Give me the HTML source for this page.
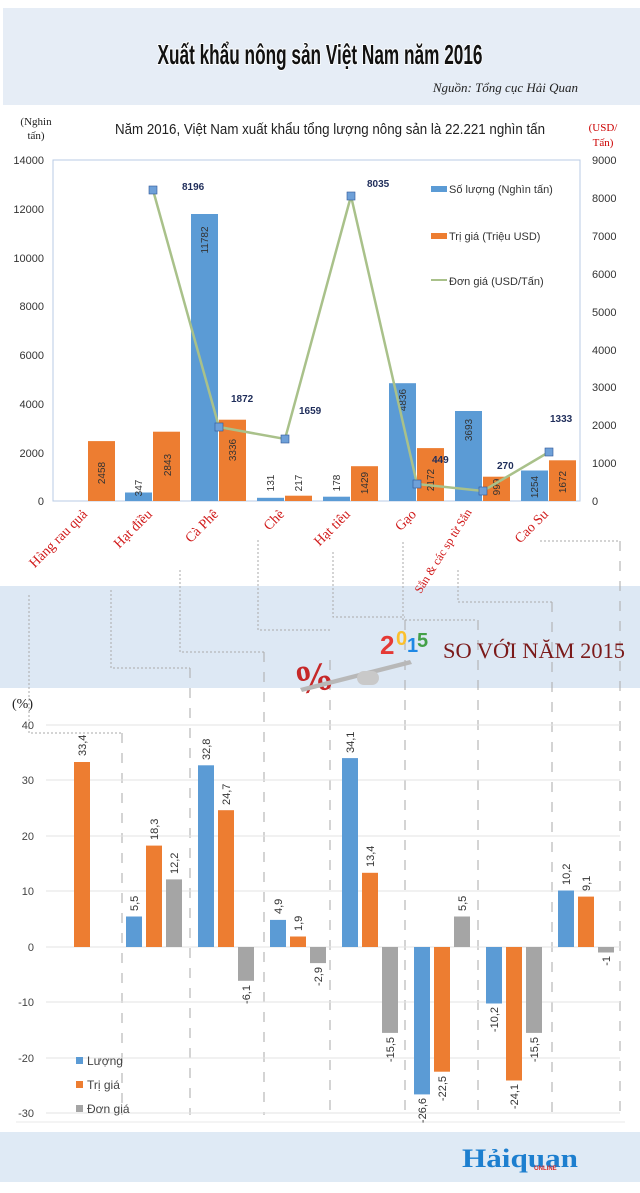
<!DOCTYPE html>
<html><head><meta charset="utf-8"><style>
body{margin:0;background:#fff;}
svg{display:block;font-family:"Liberation Sans",sans-serif;}
</style></head><body>
<svg width="640" height="1193" viewBox="0 0 640 1193" xmlns="http://www.w3.org/2000/svg">
<rect x="0" y="0" width="640" height="1193" fill="#fff"/>
<rect x="3" y="8" width="637" height="97" fill="#e6edf6"/>
<text x="320" y="64" text-anchor="middle" font-size="28" font-weight="bold" font-family="Liberation Sans,sans-serif" fill="#111" stroke="#fff" stroke-width="2" paint-order="stroke" textLength="325" lengthAdjust="spacingAndGlyphs">Xuất khẩu nông sản Việt Nam năm 2016</text>
<text x="578" y="92" text-anchor="end" font-size="13" font-style="italic" font-family="Liberation Serif,serif" fill="#222">Nguồn: Tổng cục Hải Quan</text>

<text x="36" y="125" text-anchor="middle" font-size="11" font-family="Liberation Serif,serif" fill="#222">(Nghin</text>
<text x="36" y="139" text-anchor="middle" font-size="11" font-family="Liberation Serif,serif" fill="#222">tấn)</text>
<text x="603" y="131" text-anchor="middle" font-size="11" font-family="Liberation Serif,serif" fill="#c00">(USD/</text>
<text x="603" y="146" text-anchor="middle" font-size="11" font-family="Liberation Serif,serif" fill="#c00">Tấn)</text>
<text x="330" y="134" text-anchor="middle" font-size="15" fill="#222" textLength="430" lengthAdjust="spacingAndGlyphs">Năm 2016, Việt Nam xuất khẩu tổng lượng nông sản là 22.221 nghìn tấn</text>

<rect x="53" y="160" width="527" height="341" fill="none" stroke="#b8cbe4" stroke-width="1"/>
<g font-size="11" fill="#333" text-anchor="end">
<text x="44" y="164">14000</text><text x="44" y="213">12000</text><text x="44" y="262">10000</text><text x="44" y="310">8000</text><text x="44" y="359">6000</text><text x="44" y="408">4000</text><text x="44" y="457">2000</text><text x="44" y="505">0</text>
</g>
<g font-size="11" fill="#333" text-anchor="start">
<text x="592" y="164">9000</text><text x="592" y="202">8000</text><text x="592" y="240">7000</text><text x="592" y="278">6000</text><text x="592" y="316">5000</text><text x="592" y="354">4000</text><text x="592" y="391">3000</text><text x="592" y="429">2000</text><text x="592" y="467">1000</text><text x="592" y="505">0</text>
</g>
<g>
<rect x="125" y="492.5" width="27" height="8.5" fill="#5b9bd5"/>
<rect x="191" y="214" width="27" height="287" fill="#5b9bd5"/>
<rect x="257" y="497.8" width="27" height="3.2" fill="#5b9bd5"/>
<rect x="323" y="496.7" width="27" height="4.3" fill="#5b9bd5"/>
<rect x="389" y="383.2" width="27" height="117.8" fill="#5b9bd5"/>
<rect x="455" y="411" width="27" height="90" fill="#5b9bd5"/>
<rect x="521" y="470.5" width="27" height="30.5" fill="#5b9bd5"/>
<rect x="88" y="441.1" width="27" height="59.9" fill="#ed7d31"/>
<rect x="153" y="431.7" width="27" height="69.3" fill="#ed7d31"/>
<rect x="219" y="419.7" width="27" height="81.3" fill="#ed7d31"/>
<rect x="285" y="495.7" width="27" height="5.3" fill="#ed7d31"/>
<rect x="351" y="466.2" width="27" height="34.8" fill="#ed7d31"/>
<rect x="417" y="448.1" width="27" height="52.9" fill="#ed7d31"/>
<rect x="483" y="476.7" width="27" height="24.3" fill="#ed7d31"/>
<rect x="549" y="460.3" width="27" height="40.7" fill="#ed7d31"/>
</g>
<g font-size="10" fill="#333" text-anchor="middle">
<text transform="translate(105,473) rotate(-90)">2458</text>
<text transform="translate(142,488) rotate(-90)">347</text>
<text transform="translate(171,465) rotate(-90)">2843</text>
<text transform="translate(208,240) rotate(-90)">11782</text>
<text transform="translate(236,450) rotate(-90)">3336</text>
<text transform="translate(274,483) rotate(-90)">131</text>
<text transform="translate(302,483) rotate(-90)">217</text>
<text transform="translate(340,483) rotate(-90)">178</text>
<text transform="translate(368,483) rotate(-90)">1429</text>
<text transform="translate(406,400) rotate(-90)">4836</text>
<text transform="translate(434,480) rotate(-90)">2172</text>
<text transform="translate(472,430) rotate(-90)">3693</text>
<text transform="translate(500,487) rotate(-90)">999</text>
<text transform="translate(538,487) rotate(-90)">1254</text>
<text transform="translate(566,482) rotate(-90)">1672</text>
</g>
<polyline points="153,190 219,427 285,439 351,196 417,484 483,491 549,452" fill="none" stroke="#a9c18a" stroke-width="2.5"/>
<g fill="#6ea0d8" stroke="#2f5597" stroke-width="0.6">
<rect x="149" y="186" width="8" height="8"/><rect x="215" y="423" width="8" height="8"/><rect x="281" y="435" width="8" height="8"/><rect x="347" y="192" width="8" height="8"/><rect x="413" y="480" width="8" height="8"/><rect x="479" y="487" width="8" height="8"/><rect x="545" y="448" width="8" height="8"/>
</g>
<g font-size="10" font-weight="bold" fill="#1f2d5a">
<text x="182" y="190">8196</text><text x="231" y="402">1872</text><text x="299" y="414">1659</text><text x="367" y="187">8035</text><text x="432" y="463">449</text><text x="497" y="469">270</text><text x="550" y="422">1333</text>
</g>
<g font-size="11" fill="#333">
<rect x="431" y="186" width="16" height="6" fill="#5b9bd5"/><text x="449" y="193">Số lượng (Nghìn tấn)</text>
<rect x="431" y="233" width="16" height="6" fill="#ed7d31"/><text x="449" y="240">Trị giá (Triệu USD)</text>
<rect x="431" y="279" width="16" height="2" fill="#a9c18a"/><text x="449" y="285">Đơn giá (USD/Tấn)</text>
</g>

<rect x="0" y="586" width="640" height="102" fill="#dde8f4"/>
<g font-size="14" font-family="Liberation Serif,serif" fill="#d01818" text-anchor="end">
<text transform="translate(88,515) rotate(-45)">Hàng rau quả</text>
<text transform="translate(153,515) rotate(-45)">Hạt điều</text>
<text transform="translate(219,515) rotate(-45)">Cà Phê</text>
<text transform="translate(285,515) rotate(-45)">Chè</text>
<text transform="translate(351,515) rotate(-45)">Hạt tiêu</text>
<text transform="translate(417,515) rotate(-45)">Gạo</text>
<text transform="translate(472,512) rotate(-58)" font-size="12">Sắn &amp; các sp từ Sắn</text>
<text transform="translate(549,515) rotate(-45)">Cao Su</text>
</g>
<g stroke="#aaa" stroke-width="1" stroke-dasharray="2,2" fill="none">
<polyline points="29,595 29,733 122,733"/>
<polyline points="111,590 111,668 190,668"/>
<polyline points="180,570 180,652 264,652"/>
<polyline points="258,540 258,630 330,630"/>
<polyline points="333,552 333,617 405,617"/>
<polyline points="403,542 403,620 475,620"/>
<polyline points="458,570 458,602 552,602"/>
<polyline points="540,541 620,541"/>
</g>
<g stroke="#aaa" stroke-width="1" stroke-dasharray="10,10">
<line x1="122" y1="733" x2="122" y2="1115"/><line x1="190" y1="668" x2="190" y2="1115"/><line x1="264" y1="652" x2="264" y2="1115"/><line x1="330" y1="660" x2="330" y2="1115"/><line x1="405" y1="620" x2="405" y2="1115"/><line x1="478" y1="620" x2="478" y2="1115"/><line x1="552" y1="602" x2="552" y2="1115"/><line x1="620" y1="541" x2="620" y2="1115"/>
</g>
<text x="294" y="692" font-size="40" font-weight="bold" fill="#c62828" font-family="Liberation Serif,serif" transform="rotate(-10 310 680)">%</text>
<path d="M300,688 L410,660 L412,664 L302,692 Z" fill="#b8b8b8"/>
<rect x="357" y="671" width="22" height="14" rx="7" fill="#c9c9c9"/>
<text x="380" y="654" font-size="26" font-weight="bold" fill="#e53935">2</text>
<text x="396" y="645" font-size="20" font-weight="bold" fill="#fbc02d">0</text>
<text x="407" y="652" font-size="20" font-weight="bold" fill="#1e88e5">1</text>
<text x="417" y="647" font-size="20" font-weight="bold" fill="#43a047">5</text>
<text x="443" y="658" font-size="22" font-family="Liberation Serif,serif" fill="#7b1a1a" textLength="182" lengthAdjust="spacingAndGlyphs">SO VỚI NĂM 2015</text>

<text x="12" y="708" font-size="14" font-family="Liberation Serif,serif" fill="#222">(%)</text>
<g stroke="#e3e3e3" stroke-width="1">
<line x1="46" y1="725" x2="620" y2="725"/><line x1="46" y1="780" x2="620" y2="780"/><line x1="46" y1="836" x2="620" y2="836"/><line x1="46" y1="891" x2="620" y2="891"/><line x1="46" y1="947" x2="620" y2="947"/><line x1="46" y1="1002" x2="620" y2="1002"/><line x1="46" y1="1058" x2="620" y2="1058"/><line x1="46" y1="1113" x2="620" y2="1113"/>
</g>
<line x1="16" y1="1122" x2="625" y2="1122" stroke="#e8e8e8"/>
<g font-size="11" fill="#444" text-anchor="end">
<text x="34" y="729">40</text><text x="34" y="784">30</text><text x="34" y="840">20</text><text x="34" y="895">10</text><text x="34" y="951">0</text><text x="34" y="1006">-10</text><text x="34" y="1062">-20</text><text x="34" y="1117">-30</text>
</g>
<g fill="#5b9bd5">
<rect x="126" y="916.5" width="16" height="30.5"/><rect x="198" y="765.3" width="16" height="181.7"/><rect x="270" y="919.9" width="16" height="27.1"/><rect x="342" y="758.1" width="16" height="188.9"/><rect x="414" y="947" width="16" height="147.4"/><rect x="486" y="947" width="16" height="56.5"/><rect x="558" y="890.5" width="16" height="56.5"/>
</g>
<g fill="#ed7d31">
<rect x="74" y="762" width="16" height="185"/><rect x="146" y="845.6" width="16" height="101.4"/><rect x="218" y="810.2" width="16" height="136.8"/><rect x="290" y="936.5" width="16" height="10.5"/><rect x="362" y="872.8" width="16" height="74.2"/><rect x="434" y="947" width="16" height="124.7"/><rect x="506" y="947" width="16" height="133.5"/><rect x="578" y="896.6" width="16" height="50.4"/>
</g>
<g fill="#a5a5a5">
<rect x="166" y="879.4" width="16" height="67.6"/><rect x="238" y="947" width="16" height="33.8"/><rect x="310" y="947" width="16" height="16.1"/><rect x="382" y="947" width="16" height="85.9"/><rect x="454" y="916.5" width="16" height="30.5"/><rect x="526" y="947" width="16" height="85.9"/><rect x="598" y="947" width="16" height="5.5"/>
</g>
<g font-size="11" fill="#333">
<text transform="translate(86,756) rotate(-90)">33,4</text>
<text transform="translate(138,911) rotate(-90)">5,5</text>
<text transform="translate(158,840) rotate(-90)">18,3</text>
<text transform="translate(178,874) rotate(-90)">12,2</text>
<text transform="translate(210,760) rotate(-90)">32,8</text>
<text transform="translate(230,805) rotate(-90)">24,7</text>
<text transform="translate(250,985) rotate(-90)" text-anchor="end">-6,1</text>
<text transform="translate(282,914) rotate(-90)">4,9</text>
<text transform="translate(302,931) rotate(-90)">1,9</text>
<text transform="translate(322,967) rotate(-90)" text-anchor="end">-2,9</text>
<text transform="translate(354,753) rotate(-90)">34,1</text>
<text transform="translate(374,867) rotate(-90)">13,4</text>
<text transform="translate(394,1037) rotate(-90)" text-anchor="end">-15,5</text>
<text transform="translate(426,1098) rotate(-90)" text-anchor="end">-26,6</text>
<text transform="translate(446,1076) rotate(-90)" text-anchor="end">-22,5</text>
<text transform="translate(466,911) rotate(-90)">5,5</text>
<text transform="translate(498,1007) rotate(-90)" text-anchor="end">-10,2</text>
<text transform="translate(518,1084) rotate(-90)" text-anchor="end">-24,1</text>
<text transform="translate(538,1037) rotate(-90)" text-anchor="end">-15,5</text>
<text transform="translate(570,885) rotate(-90)">10,2</text>
<text transform="translate(590,891) rotate(-90)">9,1</text>
<text transform="translate(610,956) rotate(-90)" text-anchor="end">-1</text>
</g>
<g font-size="12" fill="#444">
<rect x="76" y="1057" width="7" height="7" fill="#5b9bd5"/><text x="87" y="1065">Lượng</text>
<rect x="76" y="1081" width="7" height="7" fill="#ed7d31"/><text x="87" y="1089">Trị giá</text>
<rect x="76" y="1105" width="7" height="7" fill="#a5a5a5"/><text x="87" y="1113">Đơn giá</text>
</g>

<rect x="0" y="1132" width="640" height="50" fill="#dfeaf5"/>
<text x="462" y="1167" font-size="26" font-weight="bold" font-family="Liberation Serif,serif" fill="#1d7fcf" textLength="116" lengthAdjust="spacingAndGlyphs">Hảiquan</text>
<text x="534" y="1170" font-size="6" font-weight="bold" fill="#d32f2f">ONLINE</text>
</svg>
</body></html>
